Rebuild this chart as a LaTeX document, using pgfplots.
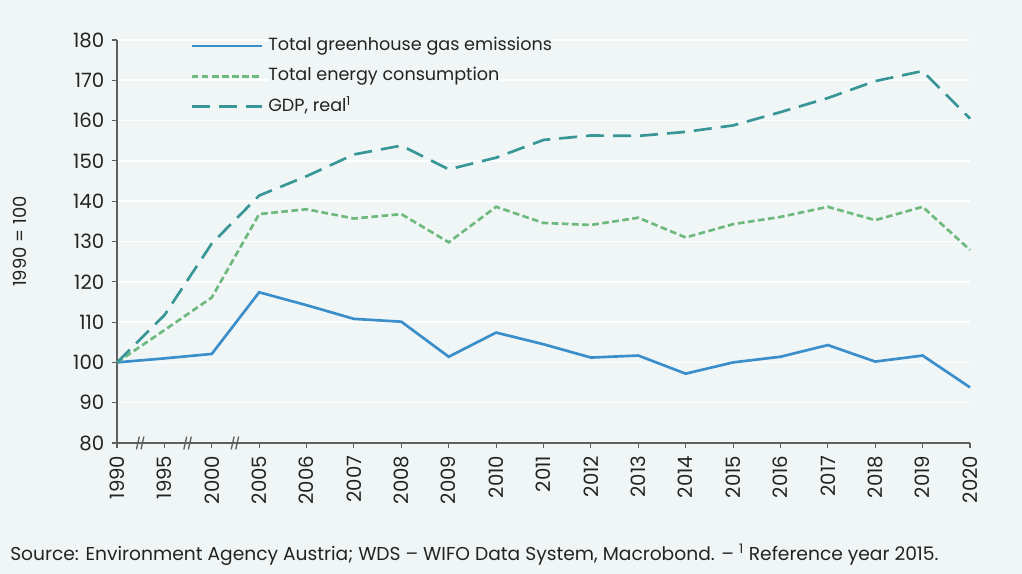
\documentclass[border=0pt]{standalone}
\usepackage{pgfplots}
\pgfplotsset{compat=1.18}
\usepackage{fontspec}
\setmainfont{Poppins}
\definecolor{bg}{RGB}{240,245,246}
\definecolor{ghg}{RGB}{58,143,203}
\definecolor{energy}{RGB}{110,185,125}
\definecolor{gdp}{RGB}{56,150,150}
\definecolor{axiscol}{RGB}{95,95,95}
\definecolor{txt}{RGB}{35,35,35}

% index: 0=1990, 1=1995, 2=2000, 3=2005, ..., 18=2020
\pgfplotstableread{
idx ghg energy gdp
0  100.0 100.0 100.0
1  101.0 108.0 111.7
2  102.1 116.1 129.5
3  117.4 136.8 141.4
4  114.2 138.0 146.2
5  110.8 135.7 151.6
6  110.1 136.8 153.8
7  101.4 129.8 147.9
8  107.4 138.6 150.8
9  104.5 134.6 155.2
10 101.2 134.1 156.3
11 101.7 135.9 156.2
12  97.2 131.0 157.2
13 100.0 134.3 158.8
14 101.4 136.1 162.1
15 104.3 138.6 165.6
16 100.2 135.3 169.8
17 101.7 138.6 172.3
18  93.8 127.9 160.5
}\datatable

\begin{document}
\begin{tikzpicture}[x=1pt,y=1pt]
% page background (1 px = 0.75 pt; axis corner at px 117,443)
\fill[bg] (-87.75pt,-98.25pt) rectangle (678.75pt,332.25pt);
\useasboundingbox (-87.75pt,-98.25pt) rectangle (678.75pt,332.25pt);
\begin{axis}[
  at={(0pt,0pt)}, anchor=south west,
  scale only axis,
  width=639.75pt, height=302.25pt,
  xmin=0, xmax=18, ymin=80, ymax=180,
  axis x line=bottom, axis y line=left,
  axis line style={axiscol, line width=0.8pt, -},
  tick align=outside,
  major tick length=4pt,
  tick style={axiscol, line width=0.8pt},
  xtick={0,...,18},
  xticklabels={1990,1995,2000,2005,2006,2007,2008,2009,2010,2011,2012,2013,2014,2015,2016,2017,2018,2019,2020},
  ytick={80,90,...,180},
  /pgf/number format/assume math mode=true,
  ticklabel style={font=\fontsize{14.8}{17}\selectfont, text=txt},
  xticklabel style={rotate=90, anchor=east, xshift=-2pt},
  yticklabel style={xshift=-2pt},
  ymajorgrids,
  grid style={white, line width=1.2pt},
  ylabel={1990 = 100},
  every axis y label/.style={at={(axis description cs:-0.1137,0.5)}, rotate=90, anchor=center, font=\fontsize{13.5}{16}\selectfont, text=txt},
  legend style={at={(axis description cs:0.0856,1.0066)}, anchor=north west,
    draw=none, fill=none, inner sep=0pt, row sep=10.4pt, column sep=4pt,
    font=\fontsize{13.2}{16}\selectfont, text=txt,
    nodes={inner sep=0pt, text height=9.6pt, text depth=2.8pt, fill=bg}},
  legend cell align=left,
  legend image code/.code={\draw[#1] (0pt,0pt) -- (52.5pt,0pt);},
  clip=false,
]
\addplot[ghg, line width=2pt] table[x=idx, y=ghg] {\datatable};
\addlegendentry{Total greenhouse gas emissions}
\addplot[energy, line width=2pt, dash pattern=on 5pt off 2.6pt] table[x=idx, y=energy] {\datatable};
\addlegendentry{Total energy consumption}
\addplot[gdp, line width=2pt, dash pattern=on 13.5pt off 6.75pt] table[x=idx, y=gdp] {\datatable};
\addlegendentry{GDP, real\textsuperscript{1}}
% axis break marks between the first non-consecutive years
\draw[axiscol, line width=1pt] ([shift={(-3.2pt,-4.8pt)}]axis cs:0.5,80) -- ++(2.2pt,9.6pt);
\draw[axiscol, line width=1pt] ([shift={(0.2pt,-4.8pt)}]axis cs:0.5,80) -- ++(2.2pt,9.6pt);
\draw[axiscol, line width=1pt] ([shift={(-3.2pt,-4.8pt)}]axis cs:1.5,80) -- ++(2.2pt,9.6pt);
\draw[axiscol, line width=1pt] ([shift={(0.2pt,-4.8pt)}]axis cs:1.5,80) -- ++(2.2pt,9.6pt);
\draw[axiscol, line width=1pt] ([shift={(-3.2pt,-4.8pt)}]axis cs:2.5,80) -- ++(2.2pt,9.6pt);
\draw[axiscol, line width=1pt] ([shift={(0.2pt,-4.8pt)}]axis cs:2.5,80) -- ++(2.2pt,9.6pt);
\end{axis}
\node[anchor=base west, font=\fontsize{14}{16}\selectfont, text=txt, inner sep=0pt] at (-80.25pt,-88pt)
  {Source: Environment Agency Austria; WDS – WIFO Data System, Macrobond. – \textsuperscript{1} Reference year 2015.};
\end{tikzpicture}
\end{document}
